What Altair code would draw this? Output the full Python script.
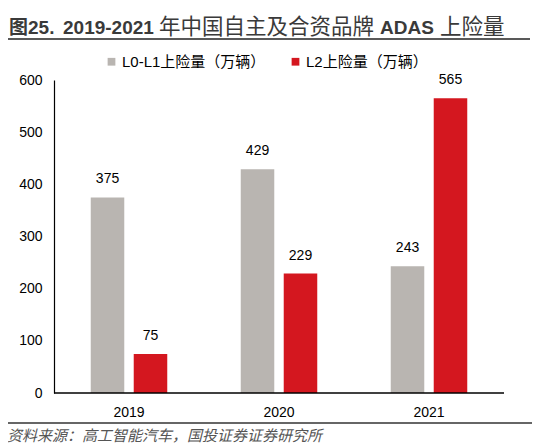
import pandas as pd
import altair as alt

years = ["2019", "2020", "2021"]
series = ["L0-L1上险量（万辆）", "L2上险量（万辆）"]
l0_l1 = [375, 429, 243]
l2 = [75, 229, 565]
colors = ["#b9b5b1", "#d4171f"]

# title pieces: latin parts bold, CJK parts regular
title_parts = ["图25.", "2019-2021", "年中国自主及合资品牌", "ADAS", "上险量"]
source_text = "资料来源：高工智能汽车，国投证券证券研究所"

FONT = "Liberation Sans, Arial, Noto Sans CJK SC"
CJK = "Noto Sans CJK SC"

df = pd.DataFrame(
    [{"year": y, "series": series[0], "value": v} for y, v in zip(years, l0_l1)]
    + [{"year": y, "series": series[1], "value": v} for y, v in zip(years, l2)]
)

x_enc = alt.X("year:N", sort=years, title=None,
              scale=alt.Scale(paddingInner=0.49, paddingOuter=0.245),
              axis=alt.Axis(labelAngle=0, ticks=False, domain=False,
                            labelFontSize=14, labelPadding=12, labelColor="#000"))
xo_enc = alt.XOffset("series:N", sort=series,
                     scale=alt.Scale(paddingInner=0.22, paddingOuter=0))

base = alt.Chart(df)

bars = base.mark_bar().encode(
    x=x_enc,
    xOffset=xo_enc,
    y=alt.Y("value:Q", title=None,
            scale=alt.Scale(domain=[0, 600]),
            axis=alt.Axis(values=[0, 100, 200, 300, 400, 500, 600], ticks=False,
                          grid=False, domainColor="#000", domainWidth=1.2,
                          labelFontSize=14, labelPadding=12, labelColor="#000")),
    color=alt.Color("series:N", sort=series,
                    scale=alt.Scale(domain=series, range=colors),
                    legend=alt.Legend(orient="none", legendX=50, legendY=-26,
                                      direction="horizontal", title=None,
                                      symbolType="square", symbolSize=60,
                                      symbolStrokeWidth=0, labelFontSize=15,
                                      labelFont=FONT, columnPadding=22,
                                      labelOffset=3, labelColor="#000")),
)

labels = base.mark_text(baseline="bottom", dy=-11, fontSize=14, font=FONT,
                        color="#000").encode(
    x=alt.X("year:N", sort=years),
    xOffset=alt.XOffset("series:N", sort=series),
    y="value:Q",
    text="value:Q",
)

# x axis baseline
x_line = alt.Chart().mark_rule(color="#000", strokeWidth=1.5).encode(
    x=alt.value(0), x2=alt.value(450), y=alt.value(313)
)


def title_piece(text, x, latin):
    return alt.Chart().mark_text(
        align="left", baseline="alphabetic",
        fontSize=19 if latin else 21.5,
        fontWeight="bold" if latin else "normal",
        font=FONT if latin else CJK, color="#3a3a3a"
    ).encode(x=alt.value(x), y=alt.value(-46.5), text=alt.value(text))


title = alt.layer(
    title_piece(title_parts[0], -45, True),
    title_piece(title_parts[1], 9, True),
    title_piece(title_parts[2], 105, False),
    title_piece(title_parts[3], 326, True),
    title_piece(title_parts[4], 386, False),
)
title_line = alt.Chart().mark_rule(color="#222", strokeWidth=1.6).encode(
    x=alt.value(-49), x2=alt.value(476), y=alt.value(-41)
)
bottom_line = alt.Chart().mark_rule(color="#333", strokeWidth=1.5).encode(
    x=alt.value(-49), x2=alt.value(481), y=alt.value(343)
)
source = alt.Chart().mark_text(align="left", baseline="middle", fontSize=15,
                               fontStyle="italic", font=FONT,
                               color="#555").encode(
    x=alt.value(-47), y=alt.value(356), text=alt.value(source_text)
)

chart = alt.layer(
    bars, labels, x_line, title, title_line, bottom_line, source
).properties(
    width=450,
    height=313,
    autosize=alt.AutoSizeParams(type="none"),
    padding={"left": 46, "top": 72, "right": 28, "bottom": 62},
).configure_view(
    strokeWidth=0
).configure_axis(
    labelFont=FONT
)

chart.save("out.html", embed_options={"renderer": "svg", "actions": False})
